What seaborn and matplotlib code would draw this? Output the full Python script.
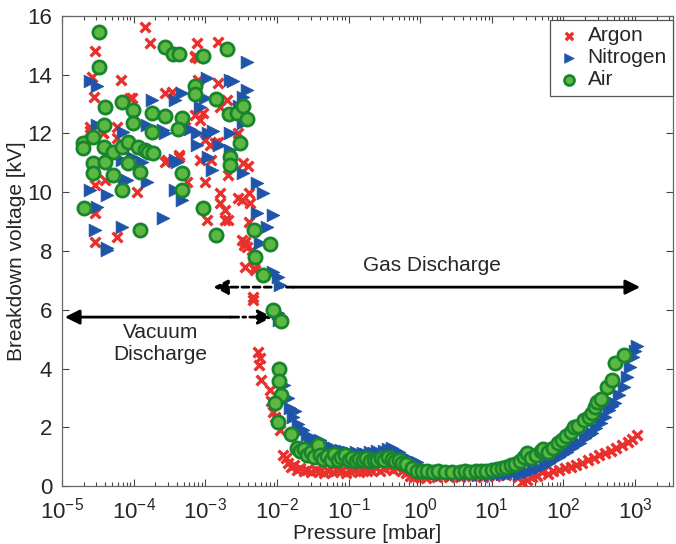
import numpy as np
import pandas as pd
import matplotlib
matplotlib.use("Agg")
import matplotlib.pyplot as plt
import seaborn as sns

# values: log10(pressure / mbar) and breakdown voltage in kV
argon_logp = [-4.54, -4.58, -4.55, -4.18, -4.02, -4.61, -4.43, -4.23, -4.23, -4.54, -4.40, -3.95,
              -4.54, -4.54, -4.23, -3.84, -3.77, -3.11, -3.14, -2.82, -3.56, -3.46, -3.53, -3.37,
              -3.25, -3.28, -3.10, -3.14, -3.07, -3.03, -3.00, -3.07, -3.00, -2.97, -2.82, -2.79,
              -2.82, -2.70, -2.68, -2.79, -2.79, -2.68, -2.54, -2.47, -2.40, -2.49, -2.39, -2.37,
              -2.39, -2.49, -2.42, -2.44, -2.30, -2.33, -4.05, -3.56, -3.37, -3.14, -3.10, -2.93,
              -2.92, -2.87, -2.73, -2.72, -2.55, -2.46, -2.35, -2.32, -2.45, -2.34, -4.43, -4.61,
              -2.26, -2.24, -2.25, -2.22, -2.10, -2.08, -2.06, -2.02, -1.95, -1.92, -1.88, -1.84,
              -1.80, -1.76, -1.72, -1.68, -1.62, -1.58, -1.52, -1.46, -1.40, -1.34, -1.28, -1.22,
              -1.16, -1.10, -1.04, -0.98, -0.92, -0.86, -0.80, -0.74, -0.68, -0.62, -0.56, -0.50,
              -0.44, -0.38, -0.32, -0.26, -0.20, -0.14, -0.08, 0.00, 0.08, 0.16, 0.24, 0.32,
              0.40, 0.48, 0.56, 0.64, 0.72, 0.80, 0.88, 0.96, 1.04, 1.12, 1.20, 1.28,
              1.36, 1.42, 1.49, 1.56, 1.63, 1.70, 1.78, 1.86, 1.94, 2.02, 2.10, 2.18,
              2.26, 2.34, 2.42, 2.50, 2.58, 2.66, 2.74, 2.82, 2.90, 2.96, 3.03]
argon_kv = [14.80, 13.91, 13.23, 13.81, 13.20, 12.21, 12.00, 12.21, 11.84, 10.24, 10.41, 10.00,
            9.29, 8.30, 8.47, 15.61, 15.07, 15.07, 14.59, 15.10, 13.37, 13.40, 11.09, 11.26,
            10.34, 12.21, 13.81, 12.62, 12.45, 12.69, 11.77, 11.09, 10.34, 9.05, 13.71, 12.89,
            11.70, 13.13, 10.58, 9.97, 9.63, 9.05, 12.00, 10.99, 10.88, 9.73, 9.97, 9.63,
            8.98, 8.37, 8.13, 7.45, 7.35, 6.33, 13.20, 11.02, 11.19, 14.63, 14.56, 11.60,
            11.09, 11.67, 9.05, 9.39, 9.80, 8.20, 8.03, 7.41, 8.30, 6.43, 12.00, 12.10,
            4.56, 4.35, 4.12, 3.60, 3.27, 2.90, 2.52, 2.35, 1.90, 1.05, 0.95, 0.80,
            0.65, 0.72, 0.55, 0.60, 0.50, 0.55, 0.48, 0.55, 0.50, 0.45, 0.52, 0.48,
            0.55, 0.50, 0.45, 0.50, 0.55, 0.48, 0.52, 0.50, 0.55, 0.60, 0.52, 0.60,
            0.65, 0.55, 0.62, 0.50, 0.45, 0.35, 0.30, 0.32, 0.28, 0.35, 0.30, 0.33,
            0.30, 0.35, 0.32, 0.38, 0.33, 0.36, 0.32, 0.38, 0.35, 0.40, 0.36, 0.40,
            0.30, 0.15, 0.20, 0.30, 0.35, 0.48, 0.42, 0.50, 0.55, 0.60, 0.65, 0.72,
            0.80, 0.88, 0.95, 1.05, 1.12, 1.20, 1.30, 1.38, 1.50, 1.60, 1.75]

nitrogen_logp = [-4.61, -4.51, -4.51, -4.61, -4.51, -4.54, -4.37, -4.37, -4.16, -4.15, -4.02, -4.09,
                 -4.16, -3.81, -3.81, -3.74, -3.59, -3.59, -3.42, -3.32, -3.42, -3.42, -3.32, -3.11,
                 -3.11, -3.07, -3.00, -2.97, -2.96, -2.96, -2.90, -2.65, -2.65, -2.65, -2.42, -2.42,
                 -2.47, -2.47, -2.47, -2.28, -2.19, -2.28, -2.05, -2.14, -2.23, -2.05, -4.37, -3.88,
                 -4.13, -3.56, -3.39, -3.22, -2.53, -2.61, -2.89, -2.81, -1.98, -1.96, -1.98, -1.97,
                 -1.90, -1.85, -1.82, -1.78, -1.75, -1.70, -1.66, -1.63, -1.58, -1.54, -1.50, -1.45,
                 -1.40, -1.35, -1.30, -1.25, -1.20, -1.15, -1.10, -1.05, -1.00, -0.95, -0.90, -0.85,
                 -0.80, -0.75, -0.70, -0.65, -0.60, -0.55, -0.50, -0.45, -0.40, -0.35, -0.30, -0.25,
                 -0.20, -0.12, -0.04, 0.04, 0.12, 0.20, 0.30, 0.40, 0.50, 0.60, 0.70, 0.80,
                 0.90, 0.98, 1.06, 1.14, 1.22, 1.30, 1.38, 1.44, 1.50, 1.58, 1.66, 1.74,
                 1.80, 1.86, 1.94, 2.00, 2.05, 2.12, 2.18, 2.23, 2.30, 2.36, 2.40, 2.46,
                 2.52, 2.58, 2.63, 2.68, 2.72, 2.78, 2.84, 2.88, 2.93, 2.97, 3.00, 3.03]
nitrogen_kv = [13.80, 13.60, 12.28, 10.07, 9.50, 8.71, 8.03, 9.90, 11.09, 12.04, 11.19, 10.41,
               8.81, 12.28, 10.34, 13.13, 12.11, 9.12, 13.13, 13.37, 11.09, 10.07, 9.73, 12.00,
               11.60, 12.89, 13.20, 13.88, 12.00, 11.19, 10.75, 13.81, 12.00, 11.43, 14.42, 13.47,
               13.23, 12.35, 10.65, 10.31, 9.97, 9.29, 9.22, 8.81, 8.27, 7.28, 8.10, 11.02,
               10.41, 12.00, 11.02, 12.14, 12.93, 13.78, 12.07, 11.60, 7.10, 6.84, 5.88, 5.65,
               3.43, 3.00, 2.65, 2.35, 2.55, 2.10, 1.95, 1.90, 1.75, 1.67, 1.60, 1.55,
               1.56, 1.45, 1.35, 1.30, 1.28, 1.20, 1.22, 1.18, 1.15, 1.12, 1.15, 1.10,
               1.12, 1.08, 1.15, 1.12, 1.19, 1.10, 1.20, 1.25, 1.29, 1.22, 1.15, 1.05,
               0.95, 0.88, 0.82, 0.55, 0.48, 0.45, 0.42, 0.45, 0.42, 0.40, 0.42, 0.38,
               0.40, 0.37, 0.40, 0.42, 0.40, 0.45, 0.42, 0.44, 0.48, 0.54, 0.62, 0.72,
               0.80, 0.88, 0.98, 1.08, 1.16, 1.28, 1.38, 1.46, 1.62, 1.72, 1.80, 1.98,
               2.14, 2.35, 2.58, 2.72, 2.82, 3.10, 3.37, 3.70, 4.05, 4.40, 4.60, 4.75]

air_logp = [-4.48, -4.48, -4.40, -4.41, -4.71, -4.71, -4.57, -4.41, -4.57, -4.57, -4.40, -4.29,
            -4.29, -4.69, -4.16, -4.01, -4.01, -4.16, -4.08, -4.08, -4.16, -3.91, -3.91, -3.94,
            -3.84, -3.80, -3.73, -3.74, -3.74, -3.56, -3.45, -3.37, -3.56, -3.32, -3.38, -3.32,
            -3.32, -3.03, -3.14, -3.14, -2.85, -2.70, -2.67, -2.56, -2.47, -2.42, -2.51, -2.65,
            -2.65, -3.03, -2.85, -2.32, -2.10, -2.30, -2.19, -2.05, -1.94,
            -1.97, -1.97, -1.94, -2.02, -1.99, -1.80, -1.72, -1.68, -1.62, -1.58, -1.52, -1.48,
            -1.42, -1.40, -1.36, -1.30, -1.25, -1.20, -1.15, -1.10, -1.05, -1.00, -0.95, -0.90,
            -0.85, -0.80, -0.75, -0.70, -0.65, -0.60, -0.55, -0.50, -0.45, -0.40, -0.35, -0.30,
            -0.25, -0.20, -0.12, -0.05, 0.02, 0.10, 0.18, 0.25, 0.35, 0.45, 0.55, 0.62,
            0.70, 0.78, 0.85, 0.92, 1.00, 1.07, 1.14, 1.20, 1.27, 1.33, 1.40, 1.45,
            1.49, 1.55, 1.62, 1.68, 1.72, 1.78, 1.85, 1.92, 1.98, 2.04, 2.10, 2.14,
            2.20, 2.28, 2.35, 2.40, 2.44, 2.47, 2.52, 2.61, 2.68, 2.72, 2.84]
air_kv = [15.44, 14.25, 12.90, 12.28, 11.67, 11.50, 11.87, 11.53, 10.99, 10.65, 11.02, 11.36,
          10.58, 9.45, 13.07, 12.79, 12.35, 11.53, 11.70, 10.99, 10.07, 10.68, 8.71, 11.53,
          11.43, 11.36, 11.33, 12.69, 12.04, 14.93, 14.69, 14.69, 12.59, 12.52, 12.14, 10.65,
          10.07, 14.63, 13.60, 13.33, 13.16, 14.86, 12.65, 12.69, 12.93, 12.48, 11.67, 11.19,
          10.92, 9.45, 8.54, 8.71, 8.23, 7.79, 7.18, 5.99, 5.61,
          3.98, 3.57, 3.10, 2.82, 2.18, 1.77, 1.30, 1.20, 1.25, 1.05, 1.15, 0.98,
          1.38, 1.05, 0.92, 1.02, 0.90, 1.08, 0.88, 0.98, 1.05, 0.90, 0.95, 0.85,
          0.92, 0.88, 0.95, 0.85, 0.90, 0.88, 0.95, 0.90, 1.00, 0.92, 0.85, 0.88,
          0.80, 0.75, 0.60, 0.52, 0.50, 0.50, 0.48, 0.50, 0.47, 0.47, 0.48, 0.50,
          0.47, 0.50, 0.52, 0.50, 0.55, 0.58, 0.62, 0.65, 0.70, 0.75, 0.85, 1.00,
          1.12, 0.95, 1.05, 1.20, 1.25, 1.15, 1.30, 1.45, 1.55, 1.70, 1.85, 2.00,
          2.05, 2.24, 2.35, 2.50, 2.69, 2.86, 2.95, 3.37, 3.60, 4.18, 4.46]

gas_names = ["Argon", "Nitrogen", "Air"]

argon = pd.DataFrame({"p": np.power(10.0, argon_logp), "v": argon_kv})
nitrogen = pd.DataFrame({"p": np.power(10.0, nitrogen_logp), "v": nitrogen_kv})
air = pd.DataFrame({"p": np.power(10.0, air_logp), "v": air_kv})

sns.set_style("ticks")
plt.rcParams["font.family"] = ["Liberation Sans", "DejaVu Sans"]
plt.rcParams["mathtext.fontset"] = "custom"
plt.rcParams["mathtext.rm"] = "Liberation Sans"
plt.rcParams["mathtext.it"] = "Liberation Sans:italic"
plt.rcParams["xtick.direction"] = "in"
plt.rcParams["ytick.direction"] = "in"

fig = plt.figure(figsize=(6.76, 5.44), dpi=100)
ax = fig.add_axes([0.0917, 0.1066, 0.904, 0.864])

sns.scatterplot(data=argon, x="p", y="v", marker="x", color="#e8302c", s=50,
                linewidth=2.4, label=gas_names[0], ax=ax, zorder=3)
sns.scatterplot(data=nitrogen, x="p", y="v", marker=">", color="#1f55a8", s=85,
                edgecolor="#1f55a8", linewidth=0.5, label=gas_names[1], ax=ax, zorder=4)
sns.scatterplot(data=air, x="p", y="v", marker="o", color="#5cb843", s=90,
                edgecolor="#17852c", linewidth=2.0, label=gas_names[2], ax=ax, zorder=5)

ax.set_xscale("log")
ax.set_xlim(1e-5, 10 ** 3.53)
ax.set_ylim(0, 16)
ax.set_xticks([10.0 ** k for k in range(-5, 4)])
ax.set_yticks(range(0, 17, 2))
ax.tick_params(axis="both", which="both", top=True, right=True, labelsize=16,
               width=0.8, color="#444444")
ax.tick_params(axis="x", which="major", pad=8)
ax.tick_params(axis="y", which="major", pad=7)
ax.tick_params(which="major", length=5)
ax.tick_params(which="minor", length=3)
for sp in ax.spines.values():
    sp.set_color("#666666")
    sp.set_linewidth(0.9)

ax.set_xlabel("Pressure [mbar]", fontsize=15, labelpad=1)
ax.set_ylabel("Breakdown voltage [kV]", fontsize=15, labelpad=1)

# region arrows
arr = dict(arrowstyle="-|>", color="black", lw=2, mutation_scale=22, shrinkA=0, shrinkB=0)
ax.annotate("", xy=(10 ** -4.96, 5.75), xytext=(10 ** -2.65, 5.75), arrowprops=arr)
ax.annotate("", xy=(10 ** -2.06, 5.75), xytext=(10 ** -2.65, 5.75),
            arrowprops=dict(arr, linestyle=(0, (3, 1.5, 1, 1.5))))
ax.annotate("", xy=(10 ** -2.89, 6.77), xytext=(10 ** -1.77, 6.77),
            arrowprops=dict(arr, linestyle=(0, (2.5, 1.5))))
ax.annotate("", xy=(10 ** 3.07, 6.77), xytext=(10 ** -1.77, 6.77), arrowprops=arr)
ax.text(10 ** -3.63, 4.85, "Vacuum\nDischarge", ha="center", va="center", fontsize=15,
        linespacing=1.2)
ax.text(10 ** 0.17, 7.5, "Gas Discharge", ha="center", va="center", fontsize=15)

leg = ax.legend(loc="upper right", bbox_to_anchor=(1.0, 0.992), borderaxespad=0,
                fontsize=15, frameon=True, fancybox=False, framealpha=1,
                edgecolor="#555555", handletextpad=0.3, labelspacing=0.15,
                borderpad=0.3, handlelength=1.2, markerscale=0.75)
leg.get_frame().set_linewidth(0.9)

fig.savefig("out.png", dpi=100)
